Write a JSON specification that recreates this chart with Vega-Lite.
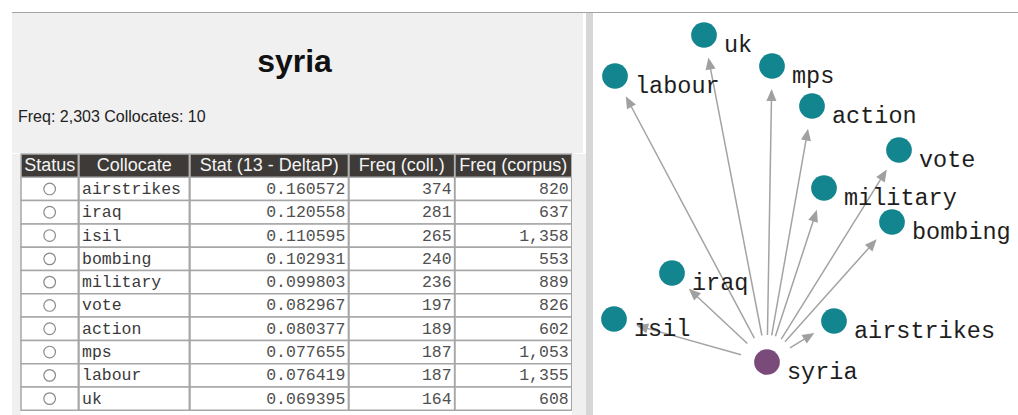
{
  "$schema": "https://vega.github.io/schema/vega-lite/v6.json",
  "background": "#ffffff",
  "padding": {"left": 12, "top": 12, "right": 0, "bottom": 0},
  "spacing": 0,
  "config": {"view": {"stroke": null}, "font": "Liberation Sans"},
  "datasets": {
    "table": [
      {"rank": 1, "collocate": "airstrikes", "stat": 0.160572, "freq_coll": 374, "freq_corpus": 820},
      {"rank": 2, "collocate": "iraq", "stat": 0.120558, "freq_coll": 281, "freq_corpus": 637},
      {"rank": 3, "collocate": "isil", "stat": 0.110595, "freq_coll": 265, "freq_corpus": 1358},
      {"rank": 4, "collocate": "bombing", "stat": 0.102931, "freq_coll": 240, "freq_corpus": 553},
      {"rank": 5, "collocate": "military", "stat": 0.099803, "freq_coll": 236, "freq_corpus": 889},
      {"rank": 6, "collocate": "vote", "stat": 0.082967, "freq_coll": 197, "freq_corpus": 826},
      {"rank": 7, "collocate": "action", "stat": 0.080377, "freq_coll": 189, "freq_corpus": 602},
      {"rank": 8, "collocate": "mps", "stat": 0.077655, "freq_coll": 187, "freq_corpus": 1053},
      {"rank": 9, "collocate": "labour", "stat": 0.076419, "freq_coll": 187, "freq_corpus": 1355},
      {"rank": 10, "collocate": "uk", "stat": 0.069395, "freq_coll": 164, "freq_corpus": 608}
    ],
    "headers": [
      {"rank": 0, "column": "Status"},
      {"rank": 0, "column": "Collocate"},
      {"rank": 0, "column": "Stat (13 - DeltaP)"},
      {"rank": 0, "column": "Freq (coll.)"},
      {"rank": 0, "column": "Freq (corpus)"}
    ],
    "graph": [
      {"node": "syria", "role": "center", "gx": 0, "gy": 0},
      {"node": "airstrikes", "role": "collocate", "gx": 67, "gy": 41},
      {"node": "iraq", "role": "collocate", "gx": -95, "gy": 89},
      {"node": "isil", "role": "collocate", "gx": -153, "gy": 43},
      {"node": "bombing", "role": "collocate", "gx": 125, "gy": 140},
      {"node": "military", "role": "collocate", "gx": 57, "gy": 174},
      {"node": "vote", "role": "collocate", "gx": 132, "gy": 212},
      {"node": "action", "role": "collocate", "gx": 45, "gy": 256},
      {"node": "mps", "role": "collocate", "gx": 5, "gy": 296},
      {"node": "labour", "role": "collocate", "gx": -152, "gy": 286},
      {"node": "uk", "role": "collocate", "gx": -63, "gy": 327}
    ]
  },
  "vconcat": [
    {"width": 1006, "height": 1, "view": {"fill": "#a3a3a3"}, "data": {"values": []}, "mark": "rect", "encoding": {}},
    {
      "spacing": 0,
      "hconcat": [
        {
          "spacing": 0,
          "vconcat": [
            {
              "width": 571,
              "height": 140,
              "view": {"fill": "#f0f0f0"},
              "data": {"values": [{"line": "title", "label": "syria"}, {"line": "info", "label": "Freq: 2,303 Collocates: 10"}]},
              "encoding": {
                "y": {"field": "line", "type": "nominal", "scale": {"type": "point", "domain": ["title", "info"], "padding": 0.914, "align": 0.652}, "axis": null},
                "text": {"field": "label"}
              },
              "layer": [
                {
                  "transform": [{"filter": "datum.line === 'title'"}],
                  "mark": {"type": "text", "font": "Liberation Sans", "fontSize": 32, "fontWeight": "bold", "color": "#111111", "baseline": "alphabetic", "dx": -3}
                },
                {
                  "transform": [{"filter": "datum.line === 'info'"}],
                  "mark": {"type": "text", "font": "Liberation Sans", "fontSize": 16, "color": "#222222", "baseline": "alphabetic", "align": "left", "dx": 6},
                  "encoding": {
                    "x": {"datum": "info", "type": "nominal", "scale": {"type": "point", "padding": 0, "align": 0}, "axis": null}
                  }
                }
              ]
            },
            {
              "spacing": 0,
              "bounds": "flush",
              "hconcat": [
                {"width": 8.7, "height": 262, "view": {"fill": "#f0f0f0"}, "data": {"values": []}, "mark": "rect", "encoding": {}},
                {
                  "width": 57.3,
                  "height": {"step": 23.3},
                  "data": {"name": "table"},
                  "encoding": {"y": {"field": "rank", "type": "ordinal", "scale": {"domain": [0, 1, 2, 3, 4, 5, 6, 7, 8, 9, 10], "paddingInner": 0, "paddingOuter": 0}, "axis": null}},
                  "layer": [
                    {"mark": {"type": "rect", "fill": "#ffffff", "stroke": "#a6a6a6", "strokeWidth": 1.5}},
                    {"mark": {"type": "point", "shape": "circle", "filled": false, "stroke": "#8a8a8a", "strokeWidth": 1.2, "size": 135, "opacity": 1}},
                    {
                      "data": {"name": "headers"},
                      "transform": [{"filter": "datum.column === 'Status'"}],
                      "layer": [
                        {"mark": {"type": "rect", "fill": "#3d3a37", "stroke": "#b0b0b0", "strokeWidth": 1.5}},
                        {"mark": {"type": "text", "color": "#f4f4f4", "font": "Liberation Sans", "fontSize": 18}, "encoding": {"text": {"field": "column"}}}
                      ]
                    }
                  ]
                },
                {
                  "width": 110.3,
                  "height": {"step": 23.3},
                  "data": {"name": "table"},
                  "encoding": {"y": {"field": "rank", "type": "ordinal", "scale": {"domain": [0, 1, 2, 3, 4, 5, 6, 7, 8, 9, 10], "paddingInner": 0, "paddingOuter": 0}, "axis": null}},
                  "layer": [
                    {"mark": {"type": "rect", "fill": "#ffffff", "stroke": "#a6a6a6", "strokeWidth": 1.5}},
                    {
                      "mark": {"type": "text", "align": "left", "dx": 3, "font": "Liberation Mono", "fontSize": 16.5, "color": "#3a3a3a"},
                      "encoding": {
                        "x": {"datum": "Collocate", "type": "nominal", "scale": {"type": "point", "padding": 0, "align": 0}, "axis": null},
                        "text": {"field": "collocate"}
                      }
                    },
                    {
                      "data": {"name": "headers"},
                      "transform": [{"filter": "datum.column === 'Collocate'"}],
                      "layer": [
                        {"mark": {"type": "rect", "fill": "#3d3a37", "stroke": "#b0b0b0", "strokeWidth": 1.5}},
                        {"mark": {"type": "text", "color": "#f4f4f4", "font": "Liberation Sans", "fontSize": 18}, "encoding": {"text": {"field": "column"}}}
                      ]
                    }
                  ]
                },
                {
                  "width": 158.4,
                  "height": {"step": 23.3},
                  "data": {"name": "table"},
                  "encoding": {"y": {"field": "rank", "type": "ordinal", "scale": {"domain": [0, 1, 2, 3, 4, 5, 6, 7, 8, 9, 10], "paddingInner": 0, "paddingOuter": 0}, "axis": null}},
                  "layer": [
                    {"mark": {"type": "rect", "fill": "#ffffff", "stroke": "#a6a6a6", "strokeWidth": 1.5}},
                    {
                      "mark": {"type": "text", "align": "right", "dx": -3, "font": "Liberation Mono", "fontSize": 16.5, "color": "#505050"},
                      "encoding": {
                        "x": {"datum": "Stat", "type": "nominal", "scale": {"type": "point", "padding": 0, "align": 1}, "axis": null},
                        "text": {"field": "stat", "type": "quantitative", "format": ".6f"}
                      }
                    },
                    {
                      "data": {"name": "headers"},
                      "transform": [{"filter": "datum.column === 'Stat (13 - DeltaP)'"}],
                      "layer": [
                        {"mark": {"type": "rect", "fill": "#3d3a37", "stroke": "#b0b0b0", "strokeWidth": 1.5}},
                        {"mark": {"type": "text", "color": "#f4f4f4", "font": "Liberation Sans", "fontSize": 18}, "encoding": {"text": {"field": "column"}}}
                      ]
                    }
                  ]
                },
                {
                  "width": 105.6,
                  "height": {"step": 23.3},
                  "data": {"name": "table"},
                  "encoding": {"y": {"field": "rank", "type": "ordinal", "scale": {"domain": [0, 1, 2, 3, 4, 5, 6, 7, 8, 9, 10], "paddingInner": 0, "paddingOuter": 0}, "axis": null}},
                  "layer": [
                    {"mark": {"type": "rect", "fill": "#ffffff", "stroke": "#a6a6a6", "strokeWidth": 1.5}},
                    {
                      "mark": {"type": "text", "align": "right", "dx": -3, "font": "Liberation Mono", "fontSize": 16.5, "color": "#505050"},
                      "encoding": {
                        "x": {"datum": "FreqColl", "type": "nominal", "scale": {"type": "point", "padding": 0, "align": 1}, "axis": null},
                        "text": {"field": "freq_coll", "type": "quantitative", "format": ","}
                      }
                    },
                    {
                      "data": {"name": "headers"},
                      "transform": [{"filter": "datum.column === 'Freq (coll.)'"}],
                      "layer": [
                        {"mark": {"type": "rect", "fill": "#3d3a37", "stroke": "#b0b0b0", "strokeWidth": 1.5}},
                        {"mark": {"type": "text", "color": "#f4f4f4", "font": "Liberation Sans", "fontSize": 18}, "encoding": {"text": {"field": "column"}}}
                      ]
                    }
                  ]
                },
                {
                  "width": 116.7,
                  "height": {"step": 23.3},
                  "data": {"name": "table"},
                  "encoding": {"y": {"field": "rank", "type": "ordinal", "scale": {"domain": [0, 1, 2, 3, 4, 5, 6, 7, 8, 9, 10], "paddingInner": 0, "paddingOuter": 0}, "axis": null}},
                  "layer": [
                    {"mark": {"type": "rect", "fill": "#ffffff", "stroke": "#a6a6a6", "strokeWidth": 1.5}},
                    {
                      "mark": {"type": "text", "align": "right", "dx": -3, "font": "Liberation Mono", "fontSize": 16.5, "color": "#505050"},
                      "encoding": {
                        "x": {"datum": "FreqCorpus", "type": "nominal", "scale": {"type": "point", "padding": 0, "align": 1}, "axis": null},
                        "text": {"field": "freq_corpus", "type": "quantitative", "format": ","}
                      }
                    },
                    {
                      "data": {"name": "headers"},
                      "transform": [{"filter": "datum.column === 'Freq (corpus)'"}],
                      "layer": [
                        {"mark": {"type": "rect", "fill": "#3d3a37", "stroke": "#b0b0b0", "strokeWidth": 1.5}},
                        {"mark": {"type": "text", "color": "#f4f4f4", "font": "Liberation Sans", "fontSize": 18}, "encoding": {"text": {"field": "column"}}}
                      ]
                    }
                  ]
                },
                {"width": 14, "height": 262, "view": {"fill": "#f0f0f0"}, "data": {"values": []}, "mark": "rect", "encoding": {}}
              ]
            }
          ]
        },
        {"width": 7, "height": 402, "view": {"fill": "#d6d6d6"}, "data": {"values": []}, "mark": "rect", "encoding": {}},
        {
          "width": 428,
          "height": 402,
          "view": {"fill": "#ffffff"},
          "data": {"name": "graph"},
          "layer": [
            {
              "transform": [
                {"filter": "datum.role === 'collocate'"},
                {"calculate": "sqrt(datum.gx*datum.gx + datum.gy*datum.gy)", "as": "len"},
                {"calculate": "datum.gx*27/datum.len", "as": "sx"},
                {"calculate": "datum.gy*27/datum.len", "as": "sy"},
                {"calculate": "datum.gx*(datum.len-30)/datum.len", "as": "ex"},
                {"calculate": "datum.gy*(datum.len-30)/datum.len", "as": "ey"}
              ],
              "mark": {"type": "rule", "color": "#a3a3a3", "strokeWidth": 1.5},
              "encoding": {
                "x": {"field": "sx", "type": "quantitative", "scale": {"domain": [-174, 254], "nice": false, "zero": false}, "axis": null},
                "y": {"field": "sy", "type": "quantitative", "scale": {"domain": [-53, 349], "nice": false, "zero": false}, "axis": null},
                "x2": {"field": "ex"},
                "y2": {"field": "ey"}
              }
            },
            {
              "transform": [
                {"filter": "datum.role === 'collocate'"},
                {"calculate": "sqrt(datum.gx*datum.gx + datum.gy*datum.gy)", "as": "len"},
                {"calculate": "datum.gx*(datum.len-23)/datum.len", "as": "ax"},
                {"calculate": "datum.gy*(datum.len-23)/datum.len", "as": "ay"},
                {"calculate": "atan2(datum.gx, datum.gy)*180/PI", "as": "heading"}
              ],
              "mark": {"type": "point", "shape": "M0,0L-0.42,1L0.42,1Z", "filled": true, "color": "#a0a0a0", "size": 576, "opacity": 1, "strokeWidth": 0},
              "encoding": {
                "x": {"field": "ax", "type": "quantitative", "scale": {"domain": [-174, 254], "nice": false, "zero": false}, "axis": null},
                "y": {"field": "ay", "type": "quantitative", "scale": {"domain": [-53, 349], "nice": false, "zero": false}, "axis": null},
                "angle": {"field": "heading", "type": "quantitative", "scale": null}
              }
            },
            {
              "mark": {"type": "point", "shape": "circle", "filled": true, "size": 660, "opacity": 1, "strokeWidth": 0},
              "encoding": {
                "x": {"field": "gx", "type": "quantitative", "scale": {"domain": [-174, 254], "nice": false, "zero": false}, "axis": null},
                "y": {"field": "gy", "type": "quantitative", "scale": {"domain": [-53, 349], "nice": false, "zero": false}, "axis": null},
                "color": {"field": "role", "type": "nominal", "scale": {"domain": ["center", "collocate"], "range": ["#7a4a7a", "#13858f"]}, "legend": null}
              }
            },
            {
              "mark": {"type": "text", "align": "left", "baseline": "middle", "dx": 20, "dy": 10, "font": "Liberation Mono", "fontSize": 23.5, "color": "#1e1e1e"},
              "encoding": {
                "x": {"field": "gx", "type": "quantitative", "scale": {"domain": [-174, 254], "nice": false, "zero": false}, "axis": null},
                "y": {"field": "gy", "type": "quantitative", "scale": {"domain": [-53, 349], "nice": false, "zero": false}, "axis": null},
                "text": {"field": "node"}
              }
            }
          ]
        }
      ]
    }
  ]
}
